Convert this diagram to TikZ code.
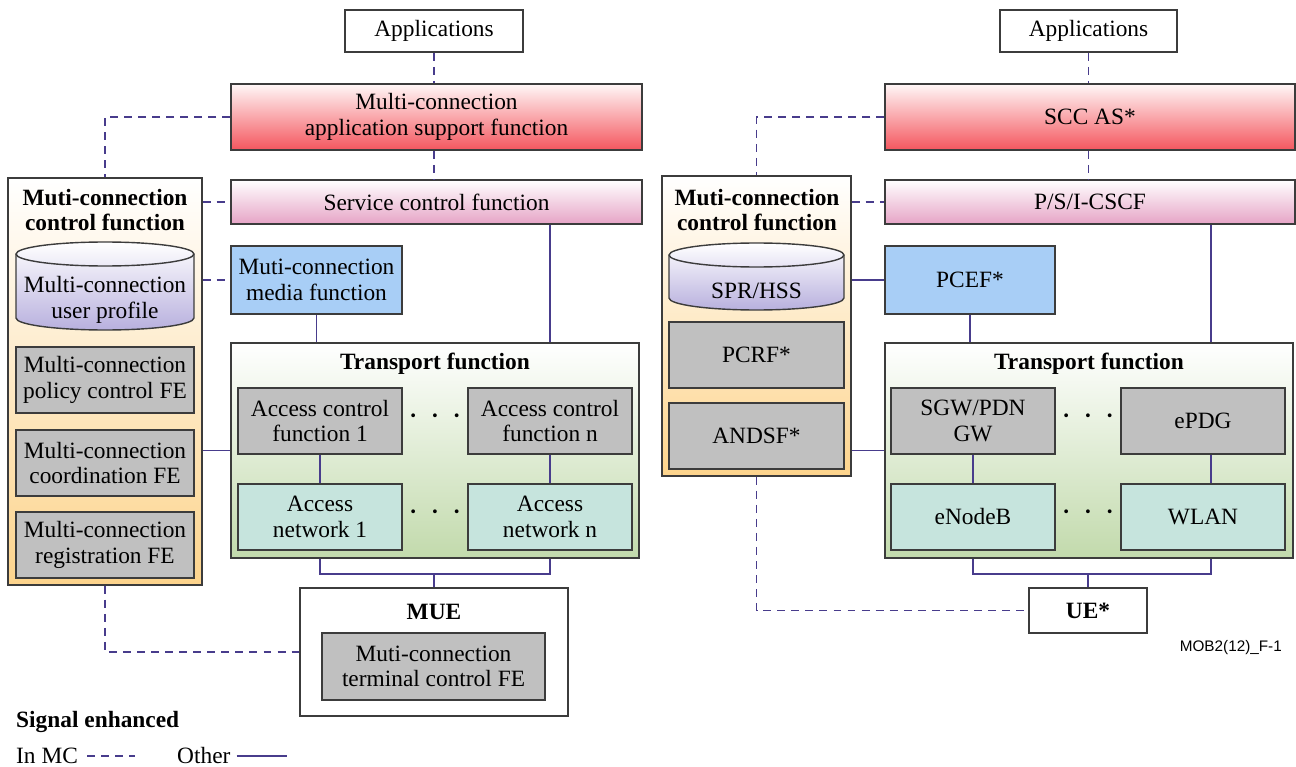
\documentclass[tikz,border=0pt]{standalone}
\usepackage{fontspec}
\setmainfont{Liberation Serif}
\newfontfamily\figfont{Liberation Sans}
\definecolor{linec}{RGB}{72,60,140}
\definecolor{edgec}{RGB}{60,60,60}
\definecolor{redf}{RGB}{244,86,94}
\definecolor{pinkf}{RGB}{230,164,198}
\definecolor{orangef}{RGB}{253,212,140}
\definecolor{lilacf}{RGB}{184,176,222}
\definecolor{grayf}{RGB}{192,192,192}
\definecolor{bluef}{RGB}{168,206,246}
\definecolor{greenf}{RGB}{194,218,172}
\definecolor{tealf}{RGB}{198,228,221}
\begin{document}
\begin{tikzpicture}[x=0.02cm, y=-0.02cm,
	font=\fontsize{13.3}{14.5}\selectfont,
	block/.style={rectangle, draw=edgec, line width=0.8pt, align=center, inner sep=2pt},
	plainbox/.style={block, fill=white},
	asfbox/.style={block, top color=red!3, bottom color=redf},
	scfbox/.style={block, top color=white, bottom color=pinkf},
	ctrlbox/.style={block, top color=white, bottom color=orangef},
	febox/.style={block, fill=grayf},
	mediabox/.style={block, fill=bluef},
	transbox/.style={block, top color=white, bottom color=greenf},
	accbox/.style={block, fill=tealf},
	dbshape/.style={draw=edgec, line width=0.8pt, top color=white, bottom color=lilacf},
	title/.style={align=center, font=\fontsize{13.3}{14.5}\selectfont\bfseries},
	dotrow/.style={font=\fontsize{13.3}{14.5}\selectfont\bfseries},
	link/.style={draw=linec, line width=1.1pt},
	mclink/.style={link, dash pattern=on 4.5pt off 3.5pt}]
	
	\useasboundingbox (0,0) rectangle (1296,767);
	
	% left: multi-connection architecture
	\node (app1) [plainbox, minimum width=3.56cm, minimum height=0.84cm] at (434,31) {Applications};
	\node (mcasf) [asfbox, minimum width=8.22cm, minimum height=1.32cm] at (436.5,117) {Multi-connection\\application support function};
	\node (scf) [scfbox, minimum width=8.22cm, minimum height=0.88cm] at (436.5,202) {Service control function};
	\node (ctrl1) [ctrlbox, minimum width=3.88cm, minimum height=8.14cm] at (105,381.5) {};
	\node (ctrl1t) [title] at (105,210) {Muti-connection\\control function};
	\draw [dbshape] (16,254) -- (16,318) arc[start angle=180, end angle=360, x radius=1.78cm, y radius=0.24cm] -- (194,254) arc[start angle=0, end angle=180, x radius=1.78cm, y radius=0.24cm] -- cycle;
	\draw [draw=edgec, line width=0.8pt] (16,254) arc[start angle=180, end angle=360, x radius=1.78cm, y radius=0.24cm];
	\node (prof) [align=center] at (105,300) {Multi-connection\\user profile};
	\node (pol) [febox, minimum width=3.56cm, minimum height=1.32cm] at (105,380) {Multi-connection\\policy control FE};
	\node (coord) [febox, minimum width=3.56cm, minimum height=1.32cm] at (105,463) {Multi-connection\\coordination FE};
	\node (reg) [febox, minimum width=3.56cm, minimum height=1.32cm] at (105,545) {Multi-connection\\registration FE};
	\node (media) [mediabox, minimum width=3.42cm, minimum height=1.36cm] at (316.5,280) {Muti-connection\\media function};
	\node (trans1) [transbox, minimum width=8.16cm, minimum height=4.3cm] at (435,450.5) {};
	\node (trans1t) [title] at (435,364) {Transport function};
	\node (acf1) [febox, minimum width=3.28cm, minimum height=1.32cm] at (320,421) {Access control\\function 1};
	\node (acfn) [febox, minimum width=3.28cm, minimum height=1.32cm] at (550,421) {Access control\\function n};
	\node (an1) [accbox, minimum width=3.28cm, minimum height=1.32cm] at (320,517) {Access\\network 1};
	\node (ann) [accbox, minimum width=3.28cm, minimum height=1.32cm] at (550,517) {Access\\network n};
	\node (dots1) [dotrow] at (435,419) {·\hspace{0.28cm}·\hspace{0.28cm}·};
	\node (dots2) [dotrow] at (435,515) {·\hspace{0.28cm}·\hspace{0.28cm}·};
	\node (mue) [plainbox, minimum width=5.36cm, minimum height=2.56cm] at (434,652) {};
	\node (muet) [title] at (434,612) {MUE};
	\node (mtc) [febox, minimum width=4.46cm, minimum height=1.34cm] at (433.5,666.5) {Muti-connection\\terminal control FE};
	\coordinate (bus1) at (434,574);
	
	\draw [mclink] (app1) -- (app1 |- mcasf.north);
	\draw [mclink] (mcasf.south -| app1) -- (scf.north -| app1);
	\draw [mclink] (mcasf.west) -| (ctrl1.north);
	\draw [mclink] (scf.west -| ctrl1.east) -- (scf.west);
	\draw [mclink] (media.west -| ctrl1.east) -- (media.west);
	\draw [link] (media) -- (media.south |- trans1.north);
	\draw [link] (scf.south -| ann) -- (trans1.north -| ann);
	\draw [link] (trans1.west -| ctrl1.east) -- (trans1.west);
	\draw [link] (acf1) -- (an1);
	\draw [link] (acfn) -- (ann);
	\draw [link] (trans1.south -| an1) |- (bus1) -| (trans1.south -| ann);
	\draw [link] (bus1) -- (bus1 |- mue.north);
	\draw [mclink] (ctrl1.south) |- (mue.west);
	
	% right: 3GPP mapping
	\node (app2) [plainbox, minimum width=3.54cm, minimum height=0.84cm] at (1088.5,31) {Applications};
	\node (scc) [asfbox, minimum width=8.2cm, minimum height=1.32cm] at (1090,117) {SCC AS*};
	\node (cscf) [scfbox, minimum width=8.2cm, minimum height=0.88cm] at (1090,202) {P/S/I-CSCF};
	\node (ctrl2) [ctrlbox, minimum width=3.78cm, minimum height=6cm] at (756.5,326) {};
	\node (ctrl2t) [title] at (757,210) {Muti-connection\\control function};
	\draw [dbshape] (669,255) -- (669,298) arc[start angle=180, end angle=360, x radius=1.75cm, y radius=0.24cm] -- (844,255) arc[start angle=0, end angle=180, x radius=1.75cm, y radius=0.24cm] -- cycle;
	\draw [draw=edgec, line width=0.8pt] (669,255) arc[start angle=180, end angle=360, x radius=1.75cm, y radius=0.24cm];
	\node (hss) at (756.5,291) {SPR/HSS};
	\node (pcrf) [febox, minimum width=3.5cm, minimum height=1.32cm] at (756.5,355) {PCRF*};
	\node (andsf) [febox, minimum width=3.5cm, minimum height=1.32cm] at (756.5,436) {ANDSF*};
	\node (pcef) [mediabox, minimum width=3.4cm, minimum height=1.36cm] at (970,280) {PCEF*};
	\node (trans2) [transbox, minimum width=8.16cm, minimum height=4.3cm] at (1089,450.5) {};
	\node (trans2t) [title] at (1089,364) {Transport function};
	\node (sgw) [febox, minimum width=3.28cm, minimum height=1.32cm] at (973,421) {SGW/PDN\\GW};
	\node (epdg) [febox, minimum width=3.28cm, minimum height=1.32cm] at (1203,421) {ePDG};
	\node (enb) [accbox, minimum width=3.28cm, minimum height=1.32cm] at (973,517) {eNodeB};
	\node (wlan) [accbox, minimum width=3.28cm, minimum height=1.32cm] at (1203,517) {WLAN};
	\node (dots3) [dotrow] at (1088,419) {·\hspace{0.28cm}·\hspace{0.28cm}·};
	\node (dots4) [dotrow] at (1088,515) {·\hspace{0.28cm}·\hspace{0.28cm}·};
	\node (ue) [plainbox, minimum width=2.36cm, minimum height=0.9cm, font=\fontsize{13.3}{14.5}\selectfont\bfseries] at (1088,610.5) {UE*};
	\coordinate (bus2) at (1088,574);
	\coordinate (rline) at (1211,450);
	
	\draw [mclink] (app2) -- (app2 |- scc.north);
	\draw [mclink] (scc.south -| app2) -- (cscf.north -| app2);
	\draw [mclink] (scc.west) -| (ctrl2.north);
	\draw [mclink] (cscf.west -| ctrl2.east) -- (cscf.west);
	\draw [link] (pcef.west -| ctrl2.east) -- (pcef.west);
	\draw [link] (pcef) -- (pcef.south |- trans2.north);
	\draw [link] (cscf.south -| rline) -- (trans2.north -| rline);
	\draw [link] (trans2.west -| ctrl2.east) -- (trans2.west);
	\draw [link] (sgw) -- (enb);
	\draw [link] (epdg.south -| rline) -- (wlan.north -| rline);
	\draw [link] (trans2.south -| enb) |- (bus2) -| (trans2.south -| rline);
	\draw [link] (bus2) -- (bus2 |- ue.north);
	\draw [mclink] (ctrl2.south) |- (ue.west);
	
	\node (figid) [anchor=east, font=\figfont\fontsize{8.7}{10}\selectfont] at (1288,648) {MOB2(12)\_F-1};
	
	% legend
	\node (sig) [anchor=west, title] at (10,722) {Signal enhanced};
	\node (inmc) [anchor=west] at (10,756) {In MC};
	\draw [mclink] ([xshift=0.06cm]inmc.east) -- ++(48,0);
	\node (other) [anchor=west] at (171,756) {Other};
	\draw [link] (other.east) -- ++(50,0);
\end{tikzpicture}
\end{document}
